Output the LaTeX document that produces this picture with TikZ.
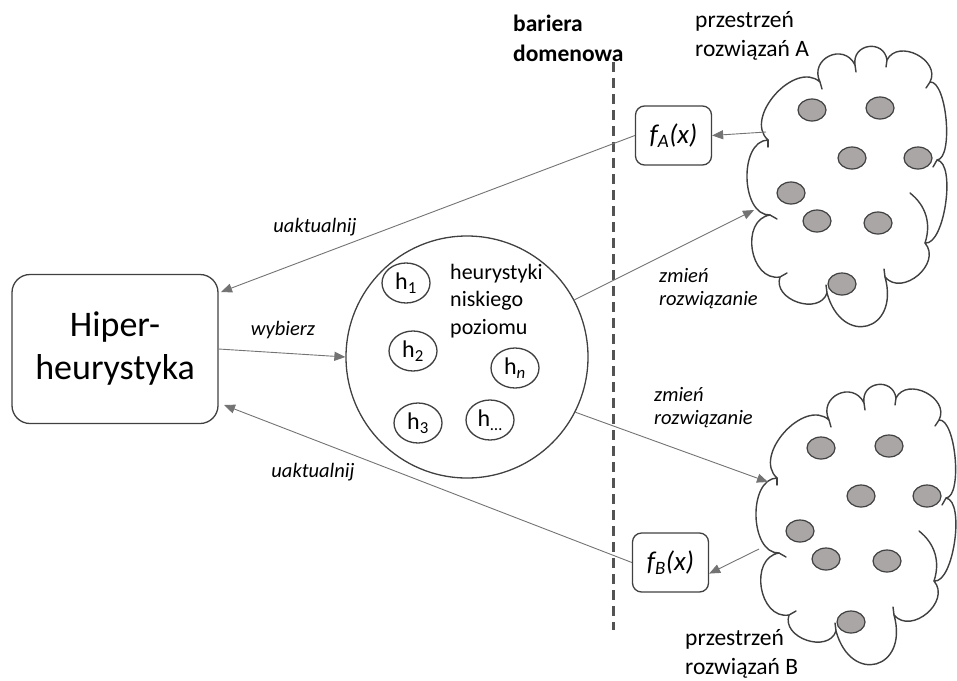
\documentclass[tikz,border=0pt]{standalone}
\usepackage{fontspec}
\setmainfont{Carlito}
\usetikzlibrary{arrows.meta,shapes.geometric}
\definecolor{ln}{RGB}{64,64,64}
\definecolor{cn}{RGB}{115,115,115}
\definecolor{dot}{RGB}{170,166,166}
\tikzset{
  conn/.style={draw=cn, line width=0.9pt, -{Triangle[length=11pt,width=9pt]}},
  lbl/.style={inner sep=0pt, anchor=west, align=left, font=\fontsize{20.5}{23}\selectfont\itshape},
  hnode/.style={draw=ln, line width=1.3pt, ellipse, minimum width=48pt, minimum height=40pt, inner sep=0pt, font=\fontsize{24}{26}\selectfont},
  fbox/.style={draw=ln, line width=1.3pt, rounded corners=9pt, minimum width=76pt, minimum height=59pt, inner sep=0pt, font=\fontsize{27}{29}\selectfont\itshape},
  dotell/.style={fill=dot, draw=ln, line width=1.2pt},
  cloudline/.style={draw=ln, line width=1.4pt, fill=white, line join=round},
  tail/.style={draw=ln, line width=1.4pt, line cap=round}
}
\newcommand{\mycloud}{%
  \path[cloudline] (768,140)
    to[bend left=90, looseness=1.1] (820,82)
    to[bend left=90, looseness=1.7] (855,65)
    to[bend left=90, looseness=1.7] (887,60)
    to[bend left=90, looseness=1.3] (930,82)
    to[bend left=90, looseness=0.55] (937,160)
    to[bend left=90, looseness=0.6] (925,243)
    to[bend left=90, looseness=1.3] (885,277)
    to[bend left=90, looseness=2.4] (827,293)
    to[bend left=90, looseness=1.25] (780,277)
    to[bend left=90, looseness=1.25] (770,215)
    to[bend left=90, looseness=1.0] cycle;
  \path[tail] (910,193) to[bend left=35] (925,243);
  \path[tail] (768,140) -- (768,147);
  \path[tail] (820,82) -- (822,89);
  \path[tail] (855,65) -- (856,72);
  \path[tail] (887,60) -- (886,67);
  \path[tail] (930,82) -- (926,88);
  \path[tail] (937,160) -- (933,167);
  \path[tail] (885,277) -- (884,269);
  \path[tail] (827,293) -- (826,285);
  \path[tail] (780,277) -- (787,273);
  \path[tail] (770,215) -- (777,219);
  \foreach \ex/\ey in {812/110, 880/108, 852/158, 918/158, 791/193, 817/221, 878/223, 842/284}
    \path[dotell] (\ex,\ey) ellipse[x radius=14pt, y radius=11pt];
}
\begin{document}
\begin{tikzpicture}[x=1pt, y=-1pt]
\useasboundingbox (0,0) rectangle (957,680);
% clouds
\begin{scope}\mycloud\end{scope}
\begin{scope}[shift={(9,338)}]\mycloud\end{scope}
% barrier
\draw[ln!90, line width=3pt, dash pattern=on 10pt off 6pt] (613,62) -- (613,630);
% nodes
\node[draw=ln, line width=1.3pt, rounded corners=18pt, minimum width=206pt, minimum height=149pt, align=center,
  font=\fontsize{36}{43}\selectfont] (hyper) at (115,349) {Hiper-\\heurystyka};
\node[draw=ln, line width=1.3pt, circle, minimum size=242pt, inner sep=0pt] (llh) at (467,357) {};
\node[inner sep=0pt, anchor=west, align=left, font=\fontsize{22}{27.5}\selectfont] (llt) at (450,301) {heurystyki\\niskiego\\poziomu};
\node[hnode] (h1) at (406,283) {h\textsubscript{1}};
\node[hnode] (h2) at (413,351) {h\textsubscript{2}};
\node[hnode] (hn) at (515,368) {h\textsubscript{\itshape n}};
\node[hnode] (h3) at (418,423) {h\textsubscript{3}};
\node[hnode] (hd) at (490,420) {h\textsubscript{\dots}};
\node[fbox] (fA) at (673.5,135.5) {f\textsubscript{A}(x)};
\node[fbox] (fB) at (670.5,562.5) {f\textsubscript{B}(x)};
% texts
\node[inner sep=0pt, anchor=west, align=left, font=\fontsize{23.5}{30}\selectfont\bfseries] (bar) at (513,38) {bariera\\domenowa};
\node[inner sep=0pt, anchor=west, align=left, font=\fontsize{23.5}{29}\selectfont] (spA) at (695,36) {przestrzeń\\rozwiązań A};
\node[inner sep=0pt, anchor=west, align=left, font=\fontsize{23.5}{29}\selectfont] (spB) at (685,654) {przestrzeń\\rozwiązań B};
\node[lbl] (l1) at (659,289) {zmień\\rozwiązanie};
\node[lbl] (l2) at (654,408) {zmień\\rozwiązanie};
\node[lbl, anchor=center] (u1) at (315,227) {uaktualnij};
\node[lbl, anchor=center] (u2) at (313,472) {uaktualnij};
\node[lbl, anchor=center] (wy) at (283,330) {wybierz};
% coordinates
\coordinate (hin1) at (221,292);
\coordinate (hin2) at (224,405);
\coordinate (cAout) at (766,132);
\coordinate (cAin) at (754,210);
\coordinate (cBin) at (768,482);
\coordinate (cBout) at (759,549);
% connectors
\draw[conn] (fA.west) -- (hin1);
\draw[conn] (cAout) -- (fA.east);
\draw[conn] (hyper.east) -- (llh.west);
\draw[conn] (llh.28) -- (cAin);
\draw[conn] (llh.-27) -- (cBin);
\draw[conn] (cBout) -- (fB.-16);
\draw[conn] (fB.west) -- (hin2);
\end{tikzpicture}
\end{document}
